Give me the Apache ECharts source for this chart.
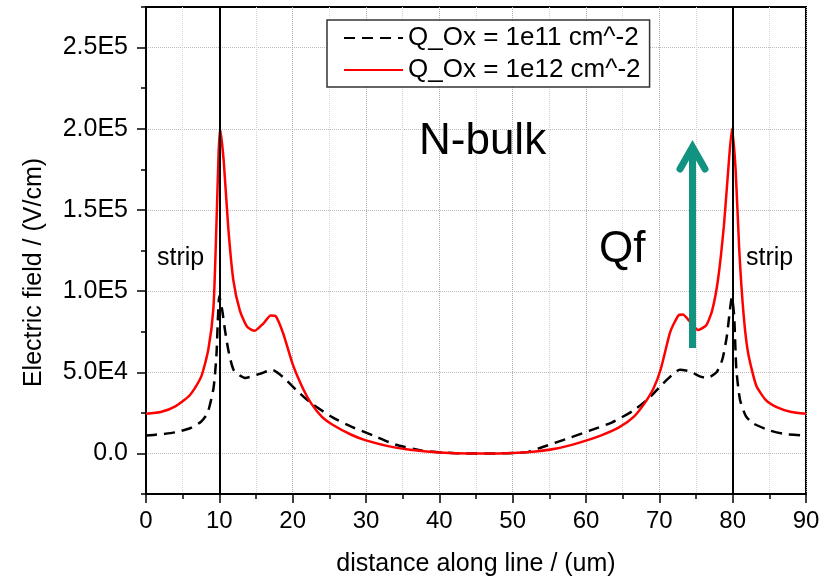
<!DOCTYPE html>
<html>
<head>
<meta charset="utf-8">
<script src="https://cdn.jsdelivr.net/npm/echarts@6/dist/echarts.min.js"></script>
<style>html,body{margin:0;padding:0;background:#fff}#c{width:830px;height:580px}</style>
</head>
<body>
<div id="c"></div>
<script>
// distance (um) and electric field (V/cm)
var xOx11 = [0, 2, 4, 6, 7.5, 8.4, 9.2, 9.6, 10, 10.4, 10.8, 11.3, 12, 13.5, 15.5, 17.2, 18.7, 20.5, 22.5, 25.5, 28, 31, 34, 37.5, 40.5, 44, 48, 52, 54, 57.5, 60.5, 63.5, 66.5, 68.7, 70.5, 72.8, 74.2, 75.5, 76.5, 77.8, 78.6, 79.2, 79.9, 80.2, 80.5, 81, 81.8, 82.8, 85, 87, 90];
var yOx11 = [11000, 11800, 13000, 15500, 19500, 25000, 40000, 60000, 97000, 88000, 75000, 62000, 51000, 46500, 49000, 51500, 47000, 39000, 31000, 22000, 16500, 11000, 5500, 1800, 500, 0, 0, 800, 3800, 9200, 14000, 19000, 26500, 34500, 43000, 51500, 50500, 47500, 46500, 50000, 58000, 72000, 96000, 85000, 52000, 33000, 23000, 18500, 14200, 12000, 11000];
var xOx12 = [0, 2, 4, 6, 7.5, 8.5, 9.2, 9.6, 9.9, 10.1, 10.6, 11.2, 11.9, 12.8, 13.8, 14.8, 16, 17, 17.7, 18.7, 20, 21.4, 22.5, 24, 25.5, 28, 30, 33, 36, 40, 44, 48, 52, 56, 59, 62, 64.5, 66.5, 68, 69.2, 70.2, 71.5, 72.6, 73.2, 74.2, 75.3, 76.4, 77.2, 78, 78.8, 79.4, 79.9, 80.4, 80.9, 81.5, 82.1, 83.2, 84.5, 86, 88, 90];
var yOx12 = [24500, 25500, 29000, 36000, 47000, 64000, 90000, 140000, 185000, 200000, 180000, 140000, 107000, 88000, 78000, 75500, 80000, 85000, 84500, 74000, 55000, 40000, 31000, 22500, 17500, 11500, 8000, 4500, 2200, 600, 0, 0, 700, 3000, 6500, 11000, 16000, 22500, 31000, 40000, 52000, 75000, 85000, 85500, 81000, 76000, 79000, 88000, 107000, 140000, 175000, 200000, 175000, 125000, 85000, 62000, 42000, 33000, 28500, 25500, 24500];
var seriesNames = ['Q_Ox = 1e11 cm^-2', 'Q_Ox = 1e12 cm^-2'];
var stripEdges = [10, 80];
var yTickValues = [0, 50000, 100000, 150000, 200000, 250000];
var yTickLabels = ['0.0', '5.0E4', '1.0E5', '1.5E5', '2.0E5', '2.5E5'];

function zip(xs, ys) { return xs.map(function (x, i) { return [x, ys[i]]; }); }

var FONT = 'Liberation Sans, Arial, sans-serif';
var chart = echarts.init(document.getElementById('c'), null, { renderer: 'canvas' });
chart.setOption({
  animation: false,
  backgroundColor: '#fff',
  textStyle: { fontFamily: FONT },
  grid: { left: 146, right: 24, top: 7, bottom: 86, outerBoundsMode: 'none', containLabel: false, show: true, borderColor: '#000', borderWidth: 2, backgroundColor: 'transparent' },
  legend: {
    orient: 'vertical', left: 327, top: 20,
    backgroundColor: '#fff', borderColor: '#333', borderWidth: 1.5,
    padding: [5, 9, 4, 16], itemWidth: 59, itemHeight: 14, itemGap: 6,
    itemStyle: { opacity: 0 },
    textStyle: { fontSize: 26, lineHeight: 26, color: '#000', fontFamily: FONT },
    data: seriesNames
  },
  xAxis: {
    type: 'value', min: 0, max: 90, interval: 10,
    name: 'distance along line / (um)', nameLocation: 'middle', nameGap: 58,
    nameTextStyle: { fontSize: 25, color: '#000', fontFamily: FONT },
    axisLine: { onZero: false, lineStyle: { color: '#000', width: 2 } },
    axisTick: { length: 9, lineStyle: { color: '#000', width: 1.5 } },
    minorTick: { show: true, splitNumber: 2, length: 5, lineStyle: { color: '#000', width: 1.5 } },
    axisLabel: { fontSize: 24, margin: 15, color: '#000', fontFamily: FONT },
    splitLine: { show: true, lineStyle: { type: 'dotted', color: '#aaaaaa', width: 1 } },
    minorSplitLine: { show: true, lineStyle: { type: 'dotted', color: '#d4d4d4', width: 1 } }
  },
  yAxis: [{
    type: 'value', min: -25000, max: 275000, interval: 25000,
    name: 'Electric field / (V/cm)', nameLocation: 'middle', nameGap: 99,
    nameTextStyle: { fontSize: 25, color: '#000', fontFamily: FONT, padding: [0, 44, 0, 0] },
    axisLine: { show: true, lineStyle: { color: '#000', width: 2 } },
    axisTick: { show: true, length: 9, customValues: yTickValues, lineStyle: { color: '#000', width: 1.5 } },
    axisLabel: {
      fontSize: 25, margin: 18, color: '#000', fontFamily: FONT, customValues: yTickValues,
      formatter: function (v) { var i = yTickValues.indexOf(v); return i >= 0 ? yTickLabels[i] : ''; }
    },
    splitLine: { show: true, lineStyle: { type: 'dotted', color: '#bbbbbb', width: 1 } }
  }, {
    type: 'value', min: -25000, max: 275000, interval: 25000, position: 'left',
    axisLine: { show: false }, axisLabel: { show: false }, splitLine: { show: false },
    axisTick: { show: true, length: 5, lineStyle: { color: '#000', width: 1.5 } }
  }],
  series: [{
    name: seriesNames[0], type: 'line', data: zip(xOx11, yOx11), symbol: 'none', smooth: 0.2,
    color: '#000', lineStyle: { color: '#000', width: 2.5, type: [11, 7] }, z: 3,
    markLine: {
      silent: true, symbol: ['none', 'none'], label: { show: false },
      lineStyle: { color: '#000', width: 2, type: 'solid' },
      data: stripEdges.map(function (x) { return { xAxis: x }; })
    }
  }, {
    name: seriesNames[1], type: 'line', data: zip(xOx12, yOx12), symbol: 'none', smooth: 0.2,
    color: '#ff0000', lineStyle: { color: '#ff0000', width: 2.5 }, z: 4
  }],
  graphic: [
    { type: 'text', x: 157, y: 258, style: { text: 'strip', fontSize: 25, fontFamily: FONT, fill: '#000', align: 'left', verticalAlign: 'middle' }, z: 10 },
    { type: 'text', x: 746, y: 258, style: { text: 'strip', fontSize: 25, fontFamily: FONT, fill: '#000', align: 'left', verticalAlign: 'middle' }, z: 10 },
    { type: 'text', x: 419, y: 142, style: { text: 'N-bulk', fontSize: 44, fontFamily: FONT, fill: '#000', align: 'left', verticalAlign: 'middle' }, z: 10 },
    { type: 'text', x: 599, y: 250, style: { text: 'Qf', fontSize: 44, fontFamily: FONT, fill: '#000', align: 'left', verticalAlign: 'middle' }, z: 10 },
    { type: 'line', shape: { x1: 692.5, y1: 348, x2: 692.5, y2: 150 }, style: { stroke: '#129280', lineWidth: 7, lineCap: 'butt' }, z: 10 },
    { type: 'polyline', shape: { points: [[680, 169], [692.5, 147], [705, 169]] }, style: { stroke: '#129280', lineWidth: 7, lineCap: 'round', lineJoin: 'miter', fill: null }, z: 10 }
  ]
});
</script>
</body>
</html>
